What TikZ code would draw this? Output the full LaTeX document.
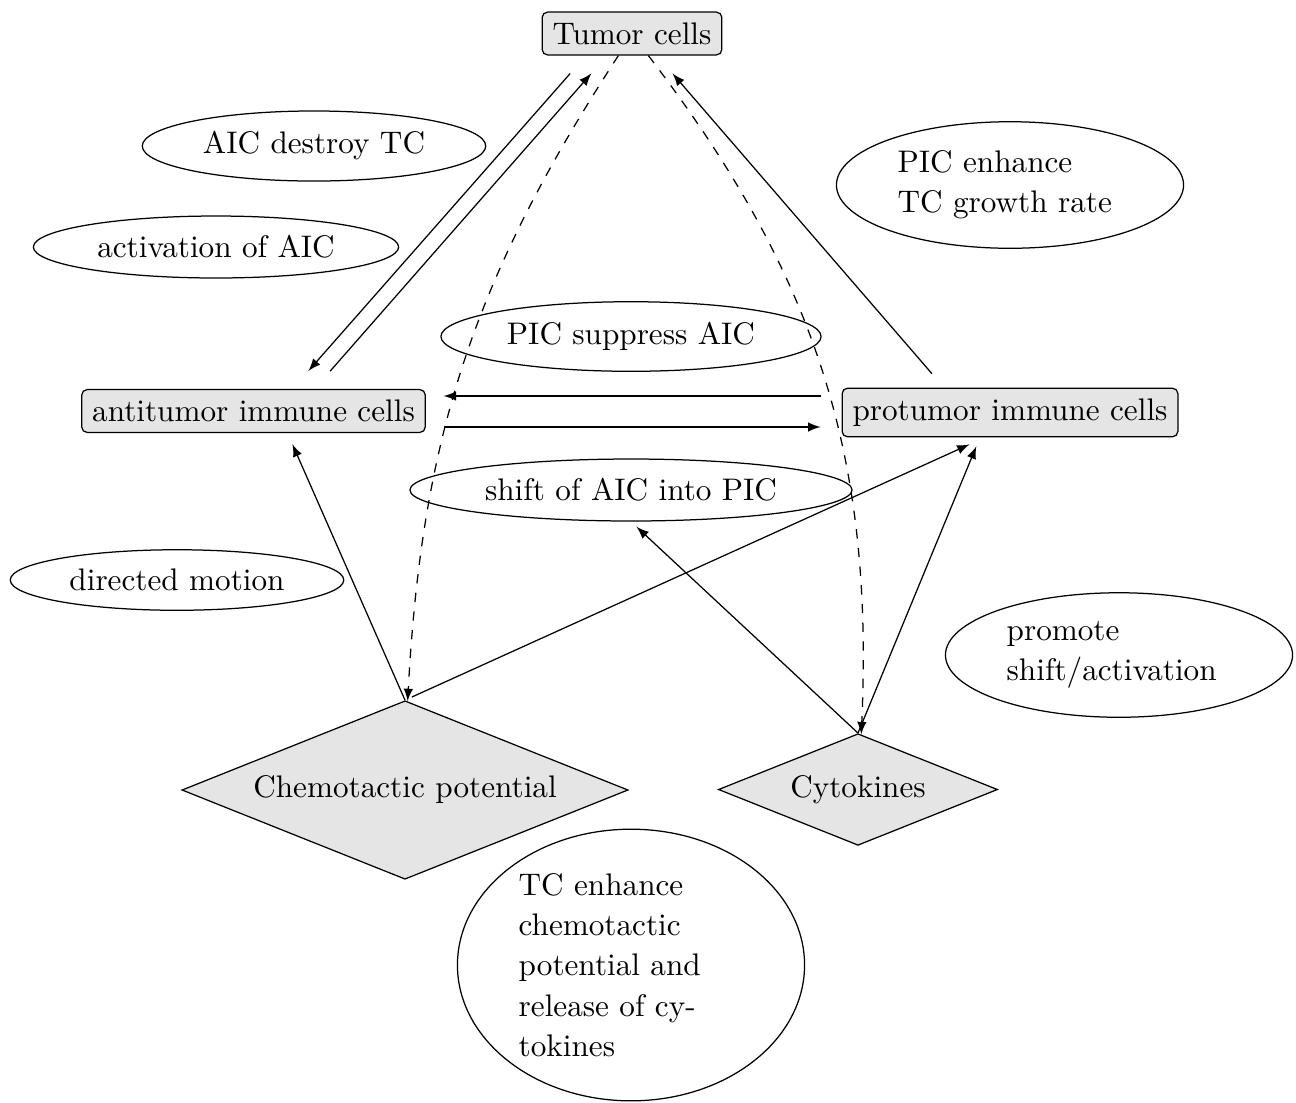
\documentclass[tikz,border=0pt]{standalone}
\usetikzlibrary{shapes.geometric,calc,arrows}
\begin{document}
\begin{tikzpicture}[x=0.3205pt,y=-0.3205pt,
  every node/.style={font=\fontsize{10}{12.9}\selectfont},
  cellbox/.style={draw,rounded corners=1.7pt,fill=gray!20},
  oval/.style={draw,ellipse},
  ovaltext/.style={draw,ellipse,text width=72pt,align=left},
  dia/.style={draw,diamond,aspect=2.5,fill=gray!20},
  arr/.style={-latex}]
\useasboundingbox (0,0) rectangle (1296,1102);
% main nodes
\node[cellbox] (tumor) at (632,33.5) {Tumor cells};
\node[cellbox] (aic) at (253.5,411) {antitumor immune cells};
\node[cellbox] (pic) at (1010,412.5) {protumor immune cells};
\node[dia] (chem) at (405,790) {Chemotactic potential};
\node[dia] (cyto) at (858,789.5) {Cytokines};
% labels
\node[oval] (l1) at (314,146) {AIC destroy TC};
\node[oval] (l2) at (216,247) {activation of AIC};
\node[ovaltext] (l3) at (1010,185) {PIC enhance\\TC growth rate};
\node[oval] (l4) at (631,336.5) {PIC suppress AIC};
\node[oval] (l5) at (631,490) {shift of AIC into PIC};
\node[oval] (l6) at (177,580) {directed motion};
\node[ovaltext] (l7) at (1119,655) {promote\\shift/activation};
\node[ovaltext,inner ysep=1.4pt] (l8) at (631,965) {TC enhance\\chemotactic\\potential and\\release of cy-\\tokines};
% connectors
\draw[arr,shorten <=7.7pt,shorten >=7.7pt] ($(tumor.south)+(-46,0)$) -- ($(aic.north)+(39,0)$);
\draw[arr,shorten <=7.6pt,shorten >=7.6pt] ($(aic.north)+(61,0)$) -- ($(tumor.south)+(-25,0)$);
\draw[arr,shorten <=5.9pt,shorten >=7.6pt] ($(pic.north)+(-66,0)$) -- ($(tumor.south)+(25,0)$);
\coordinate (h1) at ($(aic.east)+(0,-15)$);
\coordinate (h2) at ($(aic.east)+(0,16)$);
\draw[arr,shorten <=6.7pt,shorten >=5.7pt] (h1 -| pic.west) -- (h1);
\draw[arr,shorten <=5.7pt,shorten >=6.7pt] (h2) -- (h2 -| pic.west);
\draw[arr,dashed] (tumor) to[bend right=15] (chem);
\draw[arr,dashed] (tumor) to[bend left=20] (cyto);
\draw[arr,shorten >=3.9pt] (chem.north) -- ($(aic.south)+(34,0)$);
\draw[arr,shorten <=2.4pt,shorten >=5.4pt] (chem.north) -- ($(pic.south)+(-25,0)$);
\draw[arr,shorten >=3.1pt] (cyto.north) -- ($(pic.south)+(-30,0)$);
\draw[arr,shorten >=2.4pt] (cyto.north) -- (l5.south);
\end{tikzpicture}
\end{document}
